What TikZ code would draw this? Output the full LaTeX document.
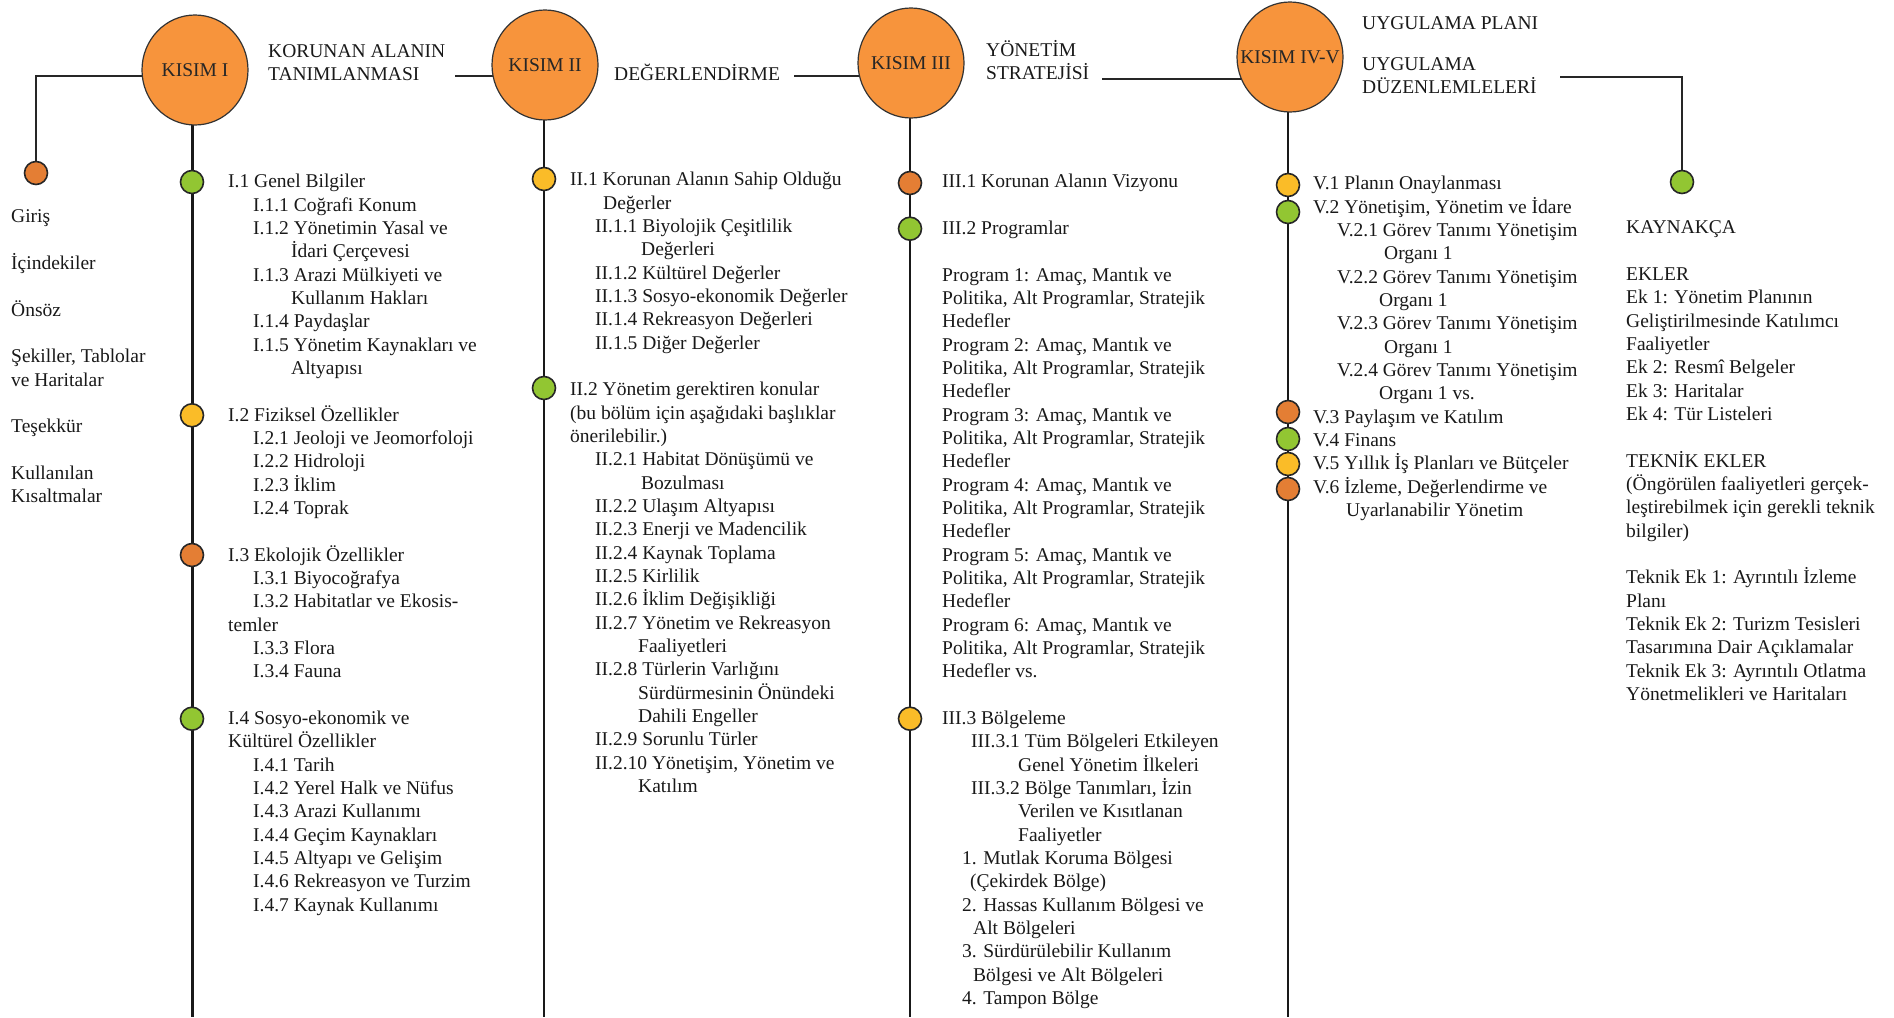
\documentclass[tikz,border=0pt]{standalone}
\usepackage{fontspec}
\setmainfont{Liberation Serif}
\usetikzlibrary{shapes.geometric,calc}
\definecolor{bigor}{RGB}{247,148,60}
\definecolor{smor}{RGB}{228,126,52}
\definecolor{cyel}{RGB}{250,188,40}
\definecolor{cgrn}{RGB}{146,198,50}
\tikzset{
  txt/.style={anchor=mid west, inner sep=0pt, font=\fontsize{19.5}{23}\selectfont, text=black!90},
  big/.style={ellipse, draw=black!80, line width=1.2pt, fill=bigor, minimum width=106pt, minimum height=110pt, inner sep=0pt},
  biglbl/.style={inner sep=0pt, font=\fontsize{19.5}{23}\selectfont, text=black!85},
  dot/.style={circle, draw=black!85, line width=1.6pt, minimum size=23pt, inner sep=0pt},
  spine/.style={line width=2.4pt, draw=black!90},
  hline/.style={line width=1.6pt, draw=black!85},
}
\newcommand\Lin[5]{\node[txt] (#1) at (#2,{#3+3.5+(#4)*23.33}) {#5};}
\begin{document}
\begin{tikzpicture}[x=1pt,y=-1pt]
\useasboundingbox (0,0) rectangle (1894,1017);
% coordinates
\coordinate (e1) at (192,1017);
\coordinate (e2) at (544,1017);
\coordinate (e3) at (910,1017);
\coordinate (e4) at (1288,1017);
\coordinate (h1) at (36,76);
\coordinate (h2) at (455,76);
\coordinate (h3) at (794,76);
\coordinate (h4) at (1102,79);
\coordinate (h5) at (1560,77);
\coordinate (h6) at (1682,77);
% big circles (positions)
\coordinate (c1) at (195,70);
\coordinate (c2) at (545,65);
\coordinate (c3) at (911,63);
\coordinate (c4) at (1290,57);
% lines
\draw[spine, line width=3pt] (e1 |- c1) -- (e1);
\draw[spine, line width=2pt] (e2 |- c2) -- (e2);
\draw[spine, line width=2pt] (e3 |- c3) -- (e3);
\draw[spine, line width=2.6pt] (e4 |- c4) -- (e4);
\coordinate (lbc) at (36,173);
\coordinate (rbc) at (1682,182);
\draw[hline] (lbc) -- (h1) -- (h1 -| c1);
\draw[hline] (h2) -- (h2 -| c2);
\draw[hline] (h3) -- (h3 -| c3);
\draw[hline] (h4) -- (h4 -| c4);
\draw[hline] (h5) -- (h6) -- (rbc);
% big circles
\node[big] (k1) at (c1) {};
\node[big] (k2) at (c2) {};
\node[big] (k3) at (c3) {};
\node[big] (k4) at (c4) {};
\node[biglbl] (k1t) at (k1) {KISIM I};
\node[biglbl] (k2t) at (k2) {KISIM II};
\node[biglbl] (k3t) at (k3) {KISIM III};
\node[biglbl] (k4t) at (k4) {KISIM IV-V};
% bullets
\node[dot, fill=smor] (lb) at (lbc) {};
\node[dot, fill=cgrn] (rb) at (rbc) {};
\node[dot, fill=cgrn] (b11) at (192,182) {};
\node[dot, fill=cyel] (b12) at (192,415.3) {};
\node[dot, fill=smor] (b13) at (192,555) {};
\node[dot, fill=cgrn] (b14) at (192,718.7) {};
\node[dot, fill=cyel] (b21) at (544,179) {};
\node[dot, fill=cgrn] (b22) at (544,388) {};
\node[dot, fill=smor] (b31) at (910,183) {};
\node[dot, fill=cgrn] (b32) at (910,228.7) {};
\node[dot, fill=cyel] (b33) at (910,718.7) {};
\node[dot, fill=cyel] (b41) at (1288,185) {};
\node[dot, fill=cgrn] (b42) at (1288,212) {};
\node[dot, fill=smor] (b43) at (1288,412) {};
\node[dot, fill=cgrn] (b44) at (1288,439) {};
\node[dot, fill=cyel] (b45) at (1288,464) {};
\node[dot, fill=smor] (b46) at (1288,489) {};
% top labels
\Lin{t1}{268}{52}{0}{KORUNAN ALANIN}
\Lin{t2}{268}{75}{0}{TANIMLANMASI}
\Lin{t3}{614}{75}{0}{DEĞERLENDİRME}
\Lin{t4}{986}{51}{0}{YÖNETİM}
\Lin{t5}{986}{74}{0}{STRATEJİSİ}
\Lin{t6}{1362}{24}{0}{UYGULAMA PLANI}
\Lin{t7}{1362}{65}{0}{UYGULAMA}
\Lin{t8}{1362}{88}{0}{DÜZENLEMLELERİ}
% left column
\Lin{l0}{11}{217}{0}{Giriş}
\Lin{l1}{11}{217}{2}{İçindekiler}
\Lin{l2}{11}{217}{4}{Önsöz}
\Lin{l3}{11}{217}{6}{Şekiller, Tablolar}
\Lin{l4}{11}{217}{7}{ve Haritalar}
\Lin{l5}{11}{217}{9}{Teşekkür}
\Lin{l6}{11}{217}{11}{Kullanılan}
\Lin{l7}{11}{217}{12}{Kısaltmalar}
% column I
\Lin{a0}{228}{182}{0}{I.1 Genel Bilgiler}
\Lin{a1}{253}{182}{1}{I.1.1 Coğrafi Konum}
\Lin{a2}{253}{182}{2}{I.1.2 Yönetimin Yasal ve}
\Lin{a3}{291}{182}{3}{İdari Çerçevesi}
\Lin{a4}{253}{182}{4}{I.1.3 Arazi Mülkiyeti ve}
\Lin{a5}{291}{182}{5}{Kullanım Hakları}
\Lin{a6}{253}{182}{6}{I.1.4 Paydaşlar}
\Lin{a7}{253}{182}{7}{I.1.5 Yönetim Kaynakları ve}
\Lin{a8}{291}{182}{8}{Altyapısı}
\Lin{a10}{228}{182}{10}{I.2 Fiziksel Özellikler}
\Lin{a11}{253}{182}{11}{I.2.1 Jeoloji ve Jeomorfoloji}
\Lin{a12}{253}{182}{12}{I.2.2 Hidroloji}
\Lin{a13}{253}{182}{13}{I.2.3 İklim}
\Lin{a14}{253}{182}{14}{I.2.4 Toprak}
\Lin{a16}{228}{182}{16}{I.3 Ekolojik Özellikler}
\Lin{a17}{253}{182}{17}{I.3.1 Biyocoğrafya}
\Lin{a18}{253}{182}{18}{I.3.2 Habitatlar ve Ekosis-}
\Lin{a19}{228}{182}{19}{temler}
\Lin{a20}{253}{182}{20}{I.3.3 Flora}
\Lin{a21}{253}{182}{21}{I.3.4 Fauna}
\Lin{a23}{228}{182}{23}{I.4 Sosyo-ekonomik ve}
\Lin{a24}{228}{182}{24}{Kültürel Özellikler}
\Lin{a25}{253}{182}{25}{I.4.1 Tarih}
\Lin{a26}{253}{182}{26}{I.4.2 Yerel Halk ve Nüfus}
\Lin{a27}{253}{182}{27}{I.4.3 Arazi Kullanımı}
\Lin{a28}{253}{182}{28}{I.4.4 Geçim Kaynakları}
\Lin{a29}{253}{182}{29}{I.4.5 Altyapı ve Gelişim}
\Lin{a30}{253}{182}{30}{I.4.6 Rekreasyon ve Turzim}
\Lin{a31}{253}{182}{31}{I.4.7 Kaynak Kullanımı}
% column II
\Lin{d0}{570}{180}{0}{II.1 Korunan Alanın Sahip Olduğu}
\Lin{d1}{603}{180}{1}{Değerler}
\Lin{d2}{595}{180}{2}{II.1.1 Biyolojik Çeşitlilik}
\Lin{d3}{641}{180}{3}{Değerleri}
\Lin{d4}{595}{180}{4}{II.1.2 Kültürel Değerler}
\Lin{d5}{595}{180}{5}{II.1.3 Sosyo-ekonomik Değerler}
\Lin{d6}{595}{180}{6}{II.1.4 Rekreasyon Değerleri}
\Lin{d7}{595}{180}{7}{II.1.5 Diğer Değerler}
\Lin{d9}{570}{180}{9}{II.2 Yönetim gerektiren konular}
\Lin{d10}{570}{180}{10}{(bu bölüm için aşağıdaki başlıklar}
\Lin{d11}{570}{180}{11}{önerilebilir.)}
\Lin{d12}{595}{180}{12}{II.2.1 Habitat Dönüşümü ve}
\Lin{d13}{641}{180}{13}{Bozulması}
\Lin{d14}{595}{180}{14}{II.2.2 Ulaşım Altyapısı}
\Lin{d15}{595}{180}{15}{II.2.3 Enerji ve Madencilik}
\Lin{d16}{595}{180}{16}{II.2.4 Kaynak Toplama}
\Lin{d17}{595}{180}{17}{II.2.5 Kirlilik}
\Lin{d18}{595}{180}{18}{II.2.6 İklim Değişikliği}
\Lin{d19}{595}{180}{19}{II.2.7 Yönetim ve Rekreasyon}
\Lin{d20}{638}{180}{20}{Faaliyetleri}
\Lin{d21}{595}{180}{21}{II.2.8 Türlerin Varlığını}
\Lin{d22}{638}{180}{22}{Sürdürmesinin Önündeki}
\Lin{d23}{638}{180}{23}{Dahili Engeller}
\Lin{d24}{595}{180}{24}{II.2.9 Sorunlu Türler}
\Lin{d25}{595}{180}{25}{II.2.10 Yönetişim, Yönetim ve}
\Lin{d26}{638}{180}{26}{Katılım}
% column III
\Lin{g0}{942}{182}{0}{III.1 Korunan Alanın Vizyonu}
\Lin{g2}{942}{182}{2}{III.2 Programlar}
\Lin{g4}{942}{182}{4}{Program 1: Amaç, Mantık ve}
\Lin{g5}{942}{182}{5}{Politika, Alt Programlar, Stratejik}
\Lin{g6}{942}{182}{6}{Hedefler}
\Lin{g7}{942}{182}{7}{Program 2: Amaç, Mantık ve}
\Lin{g8}{942}{182}{8}{Politika, Alt Programlar, Stratejik}
\Lin{g9}{942}{182}{9}{Hedefler}
\Lin{g10}{942}{182}{10}{Program 3: Amaç, Mantık ve}
\Lin{g11}{942}{182}{11}{Politika, Alt Programlar, Stratejik}
\Lin{g12}{942}{182}{12}{Hedefler}
\Lin{g13}{942}{182}{13}{Program 4: Amaç, Mantık ve}
\Lin{g14}{942}{182}{14}{Politika, Alt Programlar, Stratejik}
\Lin{g15}{942}{182}{15}{Hedefler}
\Lin{g16}{942}{182}{16}{Program 5: Amaç, Mantık ve}
\Lin{g17}{942}{182}{17}{Politika, Alt Programlar, Stratejik}
\Lin{g18}{942}{182}{18}{Hedefler}
\Lin{g19}{942}{182}{19}{Program 6: Amaç, Mantık ve}
\Lin{g20}{942}{182}{20}{Politika, Alt Programlar, Stratejik}
\Lin{g21}{942}{182}{21}{Hedefler vs.}
\Lin{g23}{942}{182}{23}{III.3 Bölgeleme}
\Lin{g24}{971}{182}{24}{III.3.1 Tüm Bölgeleri Etkileyen}
\Lin{g25}{1018}{182}{25}{Genel Yönetim İlkeleri}
\Lin{g26}{971}{182}{26}{III.3.2 Bölge Tanımları, İzin}
\Lin{g27}{1018}{182}{27}{Verilen ve Kısıtlanan}
\Lin{g28}{1018}{182}{28}{Faaliyetler}
\Lin{g29}{962}{182}{29}{1. Mutlak Koruma Bölgesi}
\Lin{g30}{970}{182}{30}{(Çekirdek Bölge)}
\Lin{g31}{962}{182}{31}{2. Hassas Kullanım Bölgesi ve}
\Lin{g32}{973}{182}{32}{Alt Bölgeleri}
\Lin{g33}{962}{182}{33}{3. Sürdürülebilir Kullanım}
\Lin{g34}{973}{182}{34}{Bölgesi ve Alt Bölgeleri}
\Lin{g35}{962}{182}{35}{4. Tampon Bölge}
% column IV-V
\Lin{v0}{1313}{184}{0}{V.1 Planın Onaylanması}
\Lin{v1}{1313}{184}{1}{V.2 Yönetişim, Yönetim ve İdare}
\Lin{v2}{1337}{184}{2}{V.2.1 Görev Tanımı Yönetişim}
\Lin{v3}{1384}{184}{3}{Organı 1}
\Lin{v4}{1337}{184}{4}{V.2.2 Görev Tanımı Yönetişim}
\Lin{v5}{1379}{184}{5}{Organı 1}
\Lin{v6}{1337}{184}{6}{V.2.3 Görev Tanımı Yönetişim}
\Lin{v7}{1384}{184}{7}{Organı 1}
\Lin{v8}{1337}{184}{8}{V.2.4 Görev Tanımı Yönetişim}
\Lin{v9}{1379}{184}{9}{Organı 1 vs.}
\Lin{v10}{1313}{184}{10}{V.3 Paylaşım ve Katılım}
\Lin{v11}{1313}{184}{11}{V.4 Finans}
\Lin{v12}{1313}{184}{12}{V.5 Yıllık İş Planları ve Bütçeler}
\Lin{v13}{1313}{184}{13}{V.6 İzleme, Değerlendirme ve}
\Lin{v14}{1346}{184}{14}{Uyarlanabilir Yönetim}
% right column
\Lin{r0}{1626}{228}{0}{KAYNAKÇA}
\Lin{r2}{1626}{228}{2}{EKLER}
\Lin{r3}{1626}{228}{3}{Ek 1: Yönetim Planının}
\Lin{r4}{1626}{228}{4}{Geliştirilmesinde Katılımcı}
\Lin{r5}{1626}{228}{5}{Faaliyetler}
\Lin{r6}{1626}{228}{6}{Ek 2: Resmî Belgeler}
\Lin{r7}{1626}{228}{7}{Ek 3: Haritalar}
\Lin{r8}{1626}{228}{8}{Ek 4: Tür Listeleri}
\Lin{r10}{1626}{228}{10}{TEKNİK EKLER}
\Lin{r11}{1626}{228}{11}{(Öngörülen faaliyetleri gerçek-}
\Lin{r12}{1626}{228}{12}{leştirebilmek için gerekli teknik}
\Lin{r13}{1626}{228}{13}{bilgiler)}
\Lin{r15}{1626}{228}{15}{Teknik Ek 1: Ayrıntılı İzleme}
\Lin{r16}{1626}{228}{16}{Planı}
\Lin{r17}{1626}{228}{17}{Teknik Ek 2: Turizm Tesisleri}
\Lin{r18}{1626}{228}{18}{Tasarımına Dair Açıklamalar}
\Lin{r19}{1626}{228}{19}{Teknik Ek 3: Ayrıntılı Otlatma}
\Lin{r20}{1626}{228}{20}{Yönetmelikleri ve Haritaları}
\end{tikzpicture}
\end{document}
